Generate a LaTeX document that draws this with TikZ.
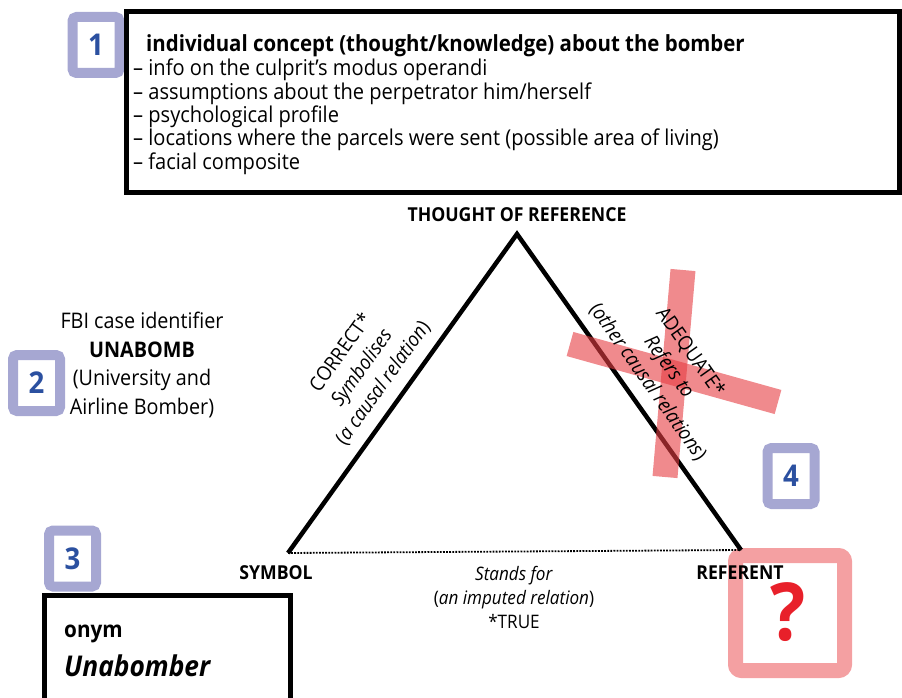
\documentclass[tikz,border=0pt]{standalone}
\usepackage{fontspec}
\setmainfont{Open Sans}[FakeStretch=0.92]
\begin{document}
\definecolor{badgepurple}{RGB}{166,167,210}
\definecolor{badgeblue}{RGB}{43,80,160}
\definecolor{crossred}{RGB}{230,60,65}
\definecolor{boxpink}{RGB}{244,160,162}
\definecolor{qred}{RGB}{232,32,42}
\begin{tikzpicture}[x=1pt,y=-1pt,
  badge/.style={draw=badgepurple, line width=10pt, rounded corners=4pt, fill=white,
    minimum width=47pt, minimum height=56pt, inner sep=0pt,
    font=\bfseries\fontsize{30}{30}\selectfont, text=badgeblue},
  item/.style={inner sep=0pt, anchor=base west, font=\fontsize{21.8}{23}\selectfont},
  lbl/.style={inner sep=0pt, font=\bfseries\fontsize{19.2}{22}\selectfont},
  side/.style={inner sep=0pt, align=center, font=\fontsize{20}{26}\selectfont},
  crossbar/.style={line width=25pt, draw=crossred, opacity=0.6},
]
\useasboundingbox (0,0) rectangle (902,698);

% box 1 with its badge behind
\node[badge] (b1) at (96,45) {1};
\draw[line width=5pt, fill=white] (126,12) rectangle (899,192);
\node[item, font=\bfseries\fontsize{22.2}{23}\selectfont] (head) at (146,52) {individual concept (thought/knowledge) about the bomber};
\node[item] (i1) at (133,76) {– info on the culprit’s modus operandi};
\node[item] (i2) at (133,99.3) {– assumptions about the perpetrator him/herself};
\node[item] (i3) at (133,122.6) {– psychological profile};
\node[item] (i4) at (133,145.9) {– locations where the parcels were sent (possible area of living)};
\node[item] (i5) at (133,169.2) {– facial composite};

% referent box (drawn below the triangle)
\node[draw=boxpink, line width=15pt, rounded corners=6pt, minimum width=109pt, minimum height=115pt, inner sep=0pt] (refbox) at (790,613) {};
\node[inner sep=0pt, text=qred, font=\bfseries\fontsize{80}{80}\selectfont] (qmark) at (788,612) {?};

% semiotic triangle
\coordinate (apex) at (517,234);
\coordinate (sym) at (288,553);
\coordinate (ref) at (741,550);
\draw[line width=4.5pt, line join=miter] (sym) -- (apex) -- (ref);
\draw[line width=1.8pt, dash pattern=on 1.8pt off 1.3pt] (sym) -- (ref);

\node[lbl] (thought) at (517,215) {THOUGHT OF REFERENCE};
\node[lbl] (symbol) at (276,573) {SYMBOL};
\node[lbl] (referent) at (740,573) {REFERENT};

\node[side, font=\fontsize{18.6}{24}\selectfont] (stands) at (514,597) {\textit{Stands for}\\(\textit{an imputed relation})\\*TRUE};

\node[side, rotate=54.3] (correct) at (362,368) {CORRECT*\\\textit{Symbolises}\\(\textit{a causal relation})};

% crossed-out label
\draw[crossbar] (683,270) -- (665,477);
\draw[crossbar] (570,344) -- (778,402);
\node[side, rotate=-54.7] (adequate) at (669,367) {ADEQUATE*\\\textit{Refers to}\\(\textit{other causal relations})};

% badge 2 and case identifier
\node[badge] (b2) at (36.5,383) {2};
\node[side, font=\fontsize{21.5}{28.7}\selectfont] (fbi) at (142,365) {FBI case identifier\\\textbf{UNABOMB}\\(University and\\Airline Bomber)};

% badge 3 and name box
\node[badge] (b3) at (72.5,558.5) {3};
\draw[line width=5pt] (290,720) -- (290,595.5) -- (44,595.5) -- (44,720);
\node[item, font=\bfseries\fontsize{22.5}{23}\selectfont] (onym) at (64,637) {onym};
\node[item, font=\bfseries\itshape\fontsize{28.6}{30}\selectfont] (name) at (64,676) {Unabomber};

% badge 4
\node[badge] (b4) at (791,476) {4};
\end{tikzpicture}
\end{document}
